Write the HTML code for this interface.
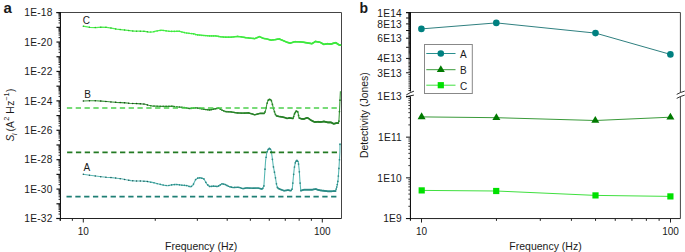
<!DOCTYPE html>
<html><head><meta charset="utf-8"><style>
html,body{margin:0;padding:0;background:#fff;}
body{width:685px;height:252px;overflow:hidden;}
svg{display:block;font-family:"Liberation Sans", sans-serif;}
</style></head><body>
<svg width="685" height="252" viewBox="0 0 685 252">
<rect width="685" height="252" fill="#fff"/>
<line x1="60.45" y1="12.50" x2="341.50" y2="12.50" stroke="#444" stroke-width="1.0" />
<line x1="341.50" y1="12.50" x2="341.50" y2="218.50" stroke="#444" stroke-width="1.0" />
<line x1="56.45" y1="218.50" x2="341.50" y2="218.50" stroke="#222" stroke-width="1.0" />
<line x1="60.45" y1="12.00" x2="60.45" y2="220.80" stroke="#111" stroke-width="1.1" />
<line x1="56.45" y1="12.50" x2="60.45" y2="12.50" stroke="#111" stroke-width="1.0" />
<line x1="56.45" y1="218.50" x2="60.45" y2="218.50" stroke="#111" stroke-width="1.2" />
<line x1="56.45" y1="203.80" x2="60.45" y2="203.80" stroke="#111" stroke-width="1.2" />
<line x1="58.55" y1="214.07" x2="60.45" y2="214.07" stroke="#222" stroke-width="1.0" />
<line x1="58.55" y1="211.48" x2="60.45" y2="211.48" stroke="#222" stroke-width="1.0" />
<line x1="58.55" y1="209.65" x2="60.45" y2="209.65" stroke="#222" stroke-width="1.0" />
<line x1="58.55" y1="208.22" x2="60.45" y2="208.22" stroke="#222" stroke-width="1.0" />
<line x1="58.55" y1="207.06" x2="60.45" y2="207.06" stroke="#222" stroke-width="1.0" />
<line x1="58.55" y1="206.07" x2="60.45" y2="206.07" stroke="#222" stroke-width="1.0" />
<line x1="58.55" y1="205.22" x2="60.45" y2="205.22" stroke="#222" stroke-width="1.0" />
<line x1="58.55" y1="204.47" x2="60.45" y2="204.47" stroke="#222" stroke-width="1.0" />
<line x1="56.45" y1="189.09" x2="60.45" y2="189.09" stroke="#111" stroke-width="1.2" />
<line x1="58.55" y1="199.37" x2="60.45" y2="199.37" stroke="#222" stroke-width="1.0" />
<line x1="58.55" y1="196.78" x2="60.45" y2="196.78" stroke="#222" stroke-width="1.0" />
<line x1="58.55" y1="194.94" x2="60.45" y2="194.94" stroke="#222" stroke-width="1.0" />
<line x1="58.55" y1="193.52" x2="60.45" y2="193.52" stroke="#222" stroke-width="1.0" />
<line x1="58.55" y1="192.35" x2="60.45" y2="192.35" stroke="#222" stroke-width="1.0" />
<line x1="58.55" y1="191.37" x2="60.45" y2="191.37" stroke="#222" stroke-width="1.0" />
<line x1="58.55" y1="190.52" x2="60.45" y2="190.52" stroke="#222" stroke-width="1.0" />
<line x1="58.55" y1="189.77" x2="60.45" y2="189.77" stroke="#222" stroke-width="1.0" />
<line x1="56.45" y1="174.39" x2="60.45" y2="174.39" stroke="#111" stroke-width="1.2" />
<line x1="58.55" y1="184.67" x2="60.45" y2="184.67" stroke="#222" stroke-width="1.0" />
<line x1="58.55" y1="182.08" x2="60.45" y2="182.08" stroke="#222" stroke-width="1.0" />
<line x1="58.55" y1="180.24" x2="60.45" y2="180.24" stroke="#222" stroke-width="1.0" />
<line x1="58.55" y1="178.82" x2="60.45" y2="178.82" stroke="#222" stroke-width="1.0" />
<line x1="58.55" y1="177.65" x2="60.45" y2="177.65" stroke="#222" stroke-width="1.0" />
<line x1="58.55" y1="176.67" x2="60.45" y2="176.67" stroke="#222" stroke-width="1.0" />
<line x1="58.55" y1="175.81" x2="60.45" y2="175.81" stroke="#222" stroke-width="1.0" />
<line x1="58.55" y1="175.06" x2="60.45" y2="175.06" stroke="#222" stroke-width="1.0" />
<line x1="56.45" y1="159.69" x2="60.45" y2="159.69" stroke="#111" stroke-width="1.2" />
<line x1="58.55" y1="169.96" x2="60.45" y2="169.96" stroke="#222" stroke-width="1.0" />
<line x1="58.55" y1="167.37" x2="60.45" y2="167.37" stroke="#222" stroke-width="1.0" />
<line x1="58.55" y1="165.54" x2="60.45" y2="165.54" stroke="#222" stroke-width="1.0" />
<line x1="58.55" y1="164.11" x2="60.45" y2="164.11" stroke="#222" stroke-width="1.0" />
<line x1="58.55" y1="162.95" x2="60.45" y2="162.95" stroke="#222" stroke-width="1.0" />
<line x1="58.55" y1="161.96" x2="60.45" y2="161.96" stroke="#222" stroke-width="1.0" />
<line x1="58.55" y1="161.11" x2="60.45" y2="161.11" stroke="#222" stroke-width="1.0" />
<line x1="58.55" y1="160.36" x2="60.45" y2="160.36" stroke="#222" stroke-width="1.0" />
<line x1="56.45" y1="144.98" x2="60.45" y2="144.98" stroke="#111" stroke-width="1.2" />
<line x1="58.55" y1="155.26" x2="60.45" y2="155.26" stroke="#222" stroke-width="1.0" />
<line x1="58.55" y1="152.67" x2="60.45" y2="152.67" stroke="#222" stroke-width="1.0" />
<line x1="58.55" y1="150.83" x2="60.45" y2="150.83" stroke="#222" stroke-width="1.0" />
<line x1="58.55" y1="149.41" x2="60.45" y2="149.41" stroke="#222" stroke-width="1.0" />
<line x1="58.55" y1="148.24" x2="60.45" y2="148.24" stroke="#222" stroke-width="1.0" />
<line x1="58.55" y1="147.26" x2="60.45" y2="147.26" stroke="#222" stroke-width="1.0" />
<line x1="58.55" y1="146.41" x2="60.45" y2="146.41" stroke="#222" stroke-width="1.0" />
<line x1="58.55" y1="145.65" x2="60.45" y2="145.65" stroke="#222" stroke-width="1.0" />
<line x1="56.45" y1="130.28" x2="60.45" y2="130.28" stroke="#111" stroke-width="1.2" />
<line x1="58.55" y1="140.56" x2="60.45" y2="140.56" stroke="#222" stroke-width="1.0" />
<line x1="58.55" y1="137.97" x2="60.45" y2="137.97" stroke="#222" stroke-width="1.0" />
<line x1="58.55" y1="136.13" x2="60.45" y2="136.13" stroke="#222" stroke-width="1.0" />
<line x1="58.55" y1="134.70" x2="60.45" y2="134.70" stroke="#222" stroke-width="1.0" />
<line x1="58.55" y1="133.54" x2="60.45" y2="133.54" stroke="#222" stroke-width="1.0" />
<line x1="58.55" y1="132.56" x2="60.45" y2="132.56" stroke="#222" stroke-width="1.0" />
<line x1="58.55" y1="131.70" x2="60.45" y2="131.70" stroke="#222" stroke-width="1.0" />
<line x1="58.55" y1="130.95" x2="60.45" y2="130.95" stroke="#222" stroke-width="1.0" />
<line x1="56.45" y1="115.58" x2="60.45" y2="115.58" stroke="#111" stroke-width="1.2" />
<line x1="58.55" y1="125.85" x2="60.45" y2="125.85" stroke="#222" stroke-width="1.0" />
<line x1="58.55" y1="123.26" x2="60.45" y2="123.26" stroke="#222" stroke-width="1.0" />
<line x1="58.55" y1="121.43" x2="60.45" y2="121.43" stroke="#222" stroke-width="1.0" />
<line x1="58.55" y1="120.00" x2="60.45" y2="120.00" stroke="#222" stroke-width="1.0" />
<line x1="58.55" y1="118.84" x2="60.45" y2="118.84" stroke="#222" stroke-width="1.0" />
<line x1="58.55" y1="117.85" x2="60.45" y2="117.85" stroke="#222" stroke-width="1.0" />
<line x1="58.55" y1="117.00" x2="60.45" y2="117.00" stroke="#222" stroke-width="1.0" />
<line x1="58.55" y1="116.25" x2="60.45" y2="116.25" stroke="#222" stroke-width="1.0" />
<line x1="56.45" y1="100.87" x2="60.45" y2="100.87" stroke="#111" stroke-width="1.2" />
<line x1="58.55" y1="111.15" x2="60.45" y2="111.15" stroke="#222" stroke-width="1.0" />
<line x1="58.55" y1="108.56" x2="60.45" y2="108.56" stroke="#222" stroke-width="1.0" />
<line x1="58.55" y1="106.72" x2="60.45" y2="106.72" stroke="#222" stroke-width="1.0" />
<line x1="58.55" y1="105.30" x2="60.45" y2="105.30" stroke="#222" stroke-width="1.0" />
<line x1="58.55" y1="104.13" x2="60.45" y2="104.13" stroke="#222" stroke-width="1.0" />
<line x1="58.55" y1="103.15" x2="60.45" y2="103.15" stroke="#222" stroke-width="1.0" />
<line x1="58.55" y1="102.30" x2="60.45" y2="102.30" stroke="#222" stroke-width="1.0" />
<line x1="58.55" y1="101.54" x2="60.45" y2="101.54" stroke="#222" stroke-width="1.0" />
<line x1="56.45" y1="86.17" x2="60.45" y2="86.17" stroke="#111" stroke-width="1.2" />
<line x1="58.55" y1="96.45" x2="60.45" y2="96.45" stroke="#222" stroke-width="1.0" />
<line x1="58.55" y1="93.86" x2="60.45" y2="93.86" stroke="#222" stroke-width="1.0" />
<line x1="58.55" y1="92.02" x2="60.45" y2="92.02" stroke="#222" stroke-width="1.0" />
<line x1="58.55" y1="90.59" x2="60.45" y2="90.59" stroke="#222" stroke-width="1.0" />
<line x1="58.55" y1="89.43" x2="60.45" y2="89.43" stroke="#222" stroke-width="1.0" />
<line x1="58.55" y1="88.45" x2="60.45" y2="88.45" stroke="#222" stroke-width="1.0" />
<line x1="58.55" y1="87.59" x2="60.45" y2="87.59" stroke="#222" stroke-width="1.0" />
<line x1="58.55" y1="86.84" x2="60.45" y2="86.84" stroke="#222" stroke-width="1.0" />
<line x1="56.45" y1="71.46" x2="60.45" y2="71.46" stroke="#111" stroke-width="1.2" />
<line x1="58.55" y1="81.74" x2="60.45" y2="81.74" stroke="#222" stroke-width="1.0" />
<line x1="58.55" y1="79.15" x2="60.45" y2="79.15" stroke="#222" stroke-width="1.0" />
<line x1="58.55" y1="77.32" x2="60.45" y2="77.32" stroke="#222" stroke-width="1.0" />
<line x1="58.55" y1="75.89" x2="60.45" y2="75.89" stroke="#222" stroke-width="1.0" />
<line x1="58.55" y1="74.73" x2="60.45" y2="74.73" stroke="#222" stroke-width="1.0" />
<line x1="58.55" y1="73.74" x2="60.45" y2="73.74" stroke="#222" stroke-width="1.0" />
<line x1="58.55" y1="72.89" x2="60.45" y2="72.89" stroke="#222" stroke-width="1.0" />
<line x1="58.55" y1="72.14" x2="60.45" y2="72.14" stroke="#222" stroke-width="1.0" />
<line x1="56.45" y1="56.76" x2="60.45" y2="56.76" stroke="#111" stroke-width="1.2" />
<line x1="58.55" y1="67.04" x2="60.45" y2="67.04" stroke="#222" stroke-width="1.0" />
<line x1="58.55" y1="64.45" x2="60.45" y2="64.45" stroke="#222" stroke-width="1.0" />
<line x1="58.55" y1="62.61" x2="60.45" y2="62.61" stroke="#222" stroke-width="1.0" />
<line x1="58.55" y1="61.19" x2="60.45" y2="61.19" stroke="#222" stroke-width="1.0" />
<line x1="58.55" y1="60.02" x2="60.45" y2="60.02" stroke="#222" stroke-width="1.0" />
<line x1="58.55" y1="59.04" x2="60.45" y2="59.04" stroke="#222" stroke-width="1.0" />
<line x1="58.55" y1="58.19" x2="60.45" y2="58.19" stroke="#222" stroke-width="1.0" />
<line x1="58.55" y1="57.43" x2="60.45" y2="57.43" stroke="#222" stroke-width="1.0" />
<line x1="56.45" y1="42.06" x2="60.45" y2="42.06" stroke="#111" stroke-width="1.2" />
<line x1="58.55" y1="52.33" x2="60.45" y2="52.33" stroke="#222" stroke-width="1.0" />
<line x1="58.55" y1="49.75" x2="60.45" y2="49.75" stroke="#222" stroke-width="1.0" />
<line x1="58.55" y1="47.91" x2="60.45" y2="47.91" stroke="#222" stroke-width="1.0" />
<line x1="58.55" y1="46.48" x2="60.45" y2="46.48" stroke="#222" stroke-width="1.0" />
<line x1="58.55" y1="45.32" x2="60.45" y2="45.32" stroke="#222" stroke-width="1.0" />
<line x1="58.55" y1="44.33" x2="60.45" y2="44.33" stroke="#222" stroke-width="1.0" />
<line x1="58.55" y1="43.48" x2="60.45" y2="43.48" stroke="#222" stroke-width="1.0" />
<line x1="58.55" y1="42.73" x2="60.45" y2="42.73" stroke="#222" stroke-width="1.0" />
<line x1="56.45" y1="27.35" x2="60.45" y2="27.35" stroke="#111" stroke-width="1.2" />
<line x1="58.55" y1="37.63" x2="60.45" y2="37.63" stroke="#222" stroke-width="1.0" />
<line x1="58.55" y1="35.04" x2="60.45" y2="35.04" stroke="#222" stroke-width="1.0" />
<line x1="58.55" y1="33.20" x2="60.45" y2="33.20" stroke="#222" stroke-width="1.0" />
<line x1="58.55" y1="31.78" x2="60.45" y2="31.78" stroke="#222" stroke-width="1.0" />
<line x1="58.55" y1="30.62" x2="60.45" y2="30.62" stroke="#222" stroke-width="1.0" />
<line x1="58.55" y1="29.63" x2="60.45" y2="29.63" stroke="#222" stroke-width="1.0" />
<line x1="58.55" y1="28.78" x2="60.45" y2="28.78" stroke="#222" stroke-width="1.0" />
<line x1="58.55" y1="28.03" x2="60.45" y2="28.03" stroke="#222" stroke-width="1.0" />
<line x1="56.45" y1="12.65" x2="60.45" y2="12.65" stroke="#111" stroke-width="1.2" />
<line x1="58.55" y1="22.93" x2="60.45" y2="22.93" stroke="#222" stroke-width="1.0" />
<line x1="58.55" y1="20.34" x2="60.45" y2="20.34" stroke="#222" stroke-width="1.0" />
<line x1="58.55" y1="18.50" x2="60.45" y2="18.50" stroke="#222" stroke-width="1.0" />
<line x1="58.55" y1="17.08" x2="60.45" y2="17.08" stroke="#222" stroke-width="1.0" />
<line x1="58.55" y1="15.91" x2="60.45" y2="15.91" stroke="#222" stroke-width="1.0" />
<line x1="58.55" y1="14.93" x2="60.45" y2="14.93" stroke="#222" stroke-width="1.0" />
<line x1="58.55" y1="14.07" x2="60.45" y2="14.07" stroke="#222" stroke-width="1.0" />
<line x1="58.55" y1="13.32" x2="60.45" y2="13.32" stroke="#222" stroke-width="1.0" />
<text x="52.65" y="222.25" font-size="10.2" text-anchor="end" font-weight="normal" fill="#1a1a1a" letter-spacing="0.22">1E-32</text>
<text x="52.65" y="192.84" font-size="10.2" text-anchor="end" font-weight="normal" fill="#1a1a1a" letter-spacing="0.22">1E-30</text>
<text x="52.65" y="163.44" font-size="10.2" text-anchor="end" font-weight="normal" fill="#1a1a1a" letter-spacing="0.22">1E-28</text>
<text x="52.65" y="134.03" font-size="10.2" text-anchor="end" font-weight="normal" fill="#1a1a1a" letter-spacing="0.22">1E-26</text>
<text x="52.65" y="104.62" font-size="10.2" text-anchor="end" font-weight="normal" fill="#1a1a1a" letter-spacing="0.22">1E-24</text>
<text x="52.65" y="75.21" font-size="10.2" text-anchor="end" font-weight="normal" fill="#1a1a1a" letter-spacing="0.22">1E-22</text>
<text x="52.65" y="45.81" font-size="10.2" text-anchor="end" font-weight="normal" fill="#1a1a1a" letter-spacing="0.22">1E-20</text>
<text x="52.65" y="16.40" font-size="10.2" text-anchor="end" font-weight="normal" fill="#1a1a1a" letter-spacing="0.22">1E-18</text>
<line x1="60.14" y1="218.50" x2="60.14" y2="220.80" stroke="#222" stroke-width="1.0" />
<line x1="72.36" y1="218.50" x2="72.36" y2="220.80" stroke="#222" stroke-width="1.0" />
<line x1="155.25" y1="218.50" x2="155.25" y2="220.80" stroke="#222" stroke-width="1.0" />
<line x1="197.33" y1="218.50" x2="197.33" y2="220.80" stroke="#222" stroke-width="1.0" />
<line x1="227.19" y1="218.50" x2="227.19" y2="220.80" stroke="#222" stroke-width="1.0" />
<line x1="250.35" y1="218.50" x2="250.35" y2="220.80" stroke="#222" stroke-width="1.0" />
<line x1="269.28" y1="218.50" x2="269.28" y2="220.80" stroke="#222" stroke-width="1.0" />
<line x1="285.28" y1="218.50" x2="285.28" y2="220.80" stroke="#222" stroke-width="1.0" />
<line x1="299.14" y1="218.50" x2="299.14" y2="220.80" stroke="#222" stroke-width="1.0" />
<line x1="311.36" y1="218.50" x2="311.36" y2="220.80" stroke="#222" stroke-width="1.0" />
<line x1="83.30" y1="218.50" x2="83.30" y2="222.50" stroke="#222" stroke-width="1.0" />
<line x1="322.30" y1="218.50" x2="322.30" y2="222.50" stroke="#222" stroke-width="1.0" />
<text x="83.30" y="234.70" font-size="10" text-anchor="middle" font-weight="normal" fill="#1a1a1a" >10</text>
<text x="322.30" y="234.70" font-size="10" text-anchor="middle" font-weight="normal" fill="#1a1a1a" >100</text>
<text x="201.20" y="249.60" font-size="10.5" text-anchor="middle" font-weight="normal" fill="#1a1a1a" >Frequency (Hz)</text>
<text transform="translate(13.6,141.43) rotate(-90)" font-size="10.3" fill="#1a1a1a"><tspan font-style="italic">S</tspan><tspan font-size="7" dy="3.5" dx="-0.6" font-style="italic">I</tspan><tspan dy="-3.5" dx="-1.1"> (A</tspan><tspan font-size="7.3" dy="-5.1" dx="0.3">2</tspan><tspan dy="5.1" dx="0.2"> H</tspan><tspan dx="0.5">z</tspan><tspan font-size="7.3" dy="-5.1" dx="-0.2">−1</tspan><tspan dy="5.1" dx="0.5">)</tspan></text>
<text x="3.60" y="13.00" font-size="15" text-anchor="start" font-weight="bold" fill="#1a1a1a" >a</text>
<polyline points="83.00,26.20 89.90,27.40 95.90,27.60 101.30,27.10 106.60,27.40 111.50,28.20 116.70,29.20 120.70,29.60 125.60,30.20 129.60,30.70 134.00,31.20 139.50,31.20 144.90,31.40 148.90,32.10 152.90,31.90 155.80,31.20 161.30,30.20 164.80,30.70 169.70,31.40 174.70,31.40 178.70,31.10 181.60,31.90 185.60,32.90 189.60,33.40 194.50,33.90 196.00,34.70 202.90,35.40 209.80,35.90 215.80,35.90 219.80,36.70 225.70,37.20 231.70,37.10 237.60,36.40 241.60,36.90 245.60,37.70 250.00,38.10 254.90,38.60 259.40,36.60 263.40,38.40 266.80,38.90 270.80,40.10 274.80,39.70 279.20,38.90 282.70,40.40 286.70,42.10 290.10,43.20 294.60,41.70 300.30,41.80 306.00,42.60 311.90,43.70 315.50,41.40 320.20,42.30 323.80,44.40 327.40,43.70 331.00,44.00 335.70,42.60 339.30,45.00 341.00,45.20" fill="none" stroke="#4ef04e" stroke-width="1.3" stroke-linejoin="round"/>
<g fill="#2cb82c"><circle cx="83.30" cy="26.25" r="0.75"/><circle cx="89.45" cy="27.32" r="0.75"/><circle cx="95.25" cy="27.58" r="0.75"/><circle cx="100.74" cy="27.15" r="0.75"/><circle cx="105.96" cy="27.36" r="0.75"/><circle cx="110.93" cy="28.11" r="0.75"/><circle cx="115.67" cy="29.00" r="0.75"/><circle cx="120.21" cy="29.55" r="0.75"/><circle cx="124.55" cy="30.07" r="0.75"/><circle cx="128.72" cy="30.59" r="0.75"/><circle cx="132.73" cy="31.06" r="0.75"/><circle cx="136.59" cy="31.20" r="0.75"/><circle cx="140.31" cy="31.23" r="0.75"/><circle cx="143.91" cy="31.36" r="0.75"/><circle cx="147.38" cy="31.83" r="0.75"/></g>
<g fill="#3ee83e"><circle cx="150.74" cy="32.01" r="0.75"/><circle cx="153.99" cy="31.64" r="0.76"/><circle cx="157.15" cy="30.95" r="0.76"/><circle cx="160.21" cy="30.40" r="0.77"/><circle cx="163.19" cy="30.47" r="0.78"/><circle cx="166.08" cy="30.88" r="0.78"/><circle cx="168.89" cy="31.28" r="0.79"/><circle cx="171.63" cy="31.40" r="0.79"/><circle cx="174.30" cy="31.40" r="0.80"/><circle cx="176.90" cy="31.23" r="0.80"/><circle cx="179.44" cy="31.30" r="0.81"/><circle cx="181.92" cy="31.98" r="0.81"/><circle cx="184.34" cy="32.58" r="0.82"/><circle cx="186.70" cy="33.04" r="0.82"/><circle cx="189.02" cy="33.33" r="0.83"/><circle cx="191.28" cy="33.57" r="0.83"/><circle cx="193.49" cy="33.80" r="0.84"/><circle cx="195.66" cy="34.52" r="0.84"/><circle cx="197.78" cy="34.88" r="0.85"/><circle cx="199.86" cy="35.09" r="0.85"/><circle cx="201.90" cy="35.30" r="0.85"/><circle cx="203.90" cy="35.47" r="0.85"/><circle cx="205.86" cy="35.61" r="0.85"/><circle cx="207.79" cy="35.75" r="0.85"/><circle cx="209.68" cy="35.89" r="0.85"/><circle cx="211.54" cy="35.90" r="0.85"/><circle cx="213.36" cy="35.90" r="0.85"/><circle cx="215.15" cy="35.90" r="0.85"/><circle cx="216.92" cy="36.12" r="0.85"/><circle cx="218.65" cy="36.47" r="0.85"/><circle cx="220.35" cy="36.75" r="0.85"/><circle cx="222.03" cy="36.89" r="0.85"/><circle cx="223.68" cy="37.03" r="0.85"/><circle cx="225.31" cy="37.17" r="0.85"/><circle cx="226.91" cy="37.18" r="0.85"/><circle cx="228.48" cy="37.15" r="0.85"/><circle cx="230.03" cy="37.13" r="0.85"/><circle cx="231.56" cy="37.10" r="0.85"/><circle cx="233.07" cy="36.94" r="0.85"/><circle cx="234.55" cy="36.76" r="0.85"/><circle cx="236.02" cy="36.59" r="0.85"/><circle cx="237.46" cy="36.42" r="0.85"/><circle cx="238.89" cy="36.56" r="0.85"/><circle cx="240.29" cy="36.74" r="0.85"/><circle cx="241.68" cy="36.92" r="0.85"/><circle cx="243.04" cy="37.19" r="0.85"/><circle cx="244.39" cy="37.46" r="0.85"/><circle cx="245.73" cy="37.71" r="0.85"/><circle cx="247.04" cy="37.83" r="0.85"/><circle cx="248.34" cy="37.95" r="0.85"/><circle cx="249.62" cy="38.07" r="0.85"/><circle cx="250.89" cy="38.19" r="0.85"/><circle cx="252.14" cy="38.32" r="0.85"/><circle cx="253.38" cy="38.45" r="0.85"/><circle cx="254.60" cy="38.57" r="0.85"/><circle cx="255.81" cy="38.19" r="0.85"/><circle cx="257.01" cy="37.66" r="0.85"/><circle cx="258.19" cy="37.14" r="0.85"/><circle cx="259.36" cy="36.62" r="0.85"/><circle cx="260.51" cy="37.10" r="0.85"/><circle cx="261.65" cy="37.61" r="0.85"/><circle cx="262.78" cy="38.12" r="0.85"/><circle cx="263.90" cy="38.47" r="0.85"/><circle cx="265.00" cy="38.64" r="0.85"/><circle cx="266.10" cy="38.80" r="0.85"/><circle cx="267.18" cy="39.01" r="0.85"/><circle cx="268.25" cy="39.34" r="0.85"/><circle cx="269.31" cy="39.65" r="0.85"/><circle cx="270.36" cy="39.97" r="0.85"/><circle cx="271.40" cy="40.04" r="0.85"/><circle cx="272.43" cy="39.94" r="0.85"/><circle cx="273.45" cy="39.84" r="0.85"/><circle cx="274.46" cy="39.73" r="0.85"/><circle cx="275.46" cy="39.58" r="0.85"/><circle cx="276.45" cy="39.40" r="0.85"/><circle cx="277.43" cy="39.22" r="0.85"/><circle cx="278.40" cy="39.05" r="0.85"/><circle cx="279.36" cy="38.97" r="0.85"/><circle cx="280.31" cy="39.38" r="0.85"/><circle cx="281.26" cy="39.78" r="0.85"/><circle cx="282.19" cy="40.18" r="0.85"/><circle cx="283.12" cy="40.58" r="0.85"/><circle cx="284.04" cy="40.97" r="0.85"/><circle cx="284.95" cy="41.36" r="0.85"/><circle cx="285.86" cy="41.74" r="0.85"/><circle cx="286.75" cy="42.12" r="0.85"/><circle cx="287.64" cy="42.40" r="0.85"/><circle cx="288.52" cy="42.69" r="0.85"/><circle cx="289.39" cy="42.97" r="0.85"/><circle cx="290.26" cy="43.15" r="0.85"/><circle cx="291.12" cy="42.86" r="0.85"/><circle cx="291.97" cy="42.58" r="0.85"/><circle cx="292.81" cy="42.30" r="0.85"/><circle cx="293.65" cy="42.02" r="0.85"/><circle cx="294.48" cy="41.74" r="0.85"/><circle cx="295.31" cy="41.71" r="0.85"/><circle cx="296.12" cy="41.73" r="0.85"/><circle cx="296.94" cy="41.74" r="0.85"/><circle cx="297.74" cy="41.76" r="0.85"/><circle cx="298.54" cy="41.77" r="0.85"/><circle cx="299.33" cy="41.78" r="0.85"/><circle cx="300.12" cy="41.80" r="0.85"/><circle cx="300.90" cy="41.88" r="0.85"/><circle cx="301.68" cy="41.99" r="0.85"/><circle cx="302.45" cy="42.10" r="0.85"/><circle cx="303.21" cy="42.21" r="0.85"/><circle cx="303.97" cy="42.31" r="0.85"/><circle cx="304.72" cy="42.42" r="0.85"/><circle cx="305.47" cy="42.53" r="0.85"/><circle cx="306.21" cy="42.64" r="0.85"/><circle cx="306.95" cy="42.78" r="0.85"/><circle cx="307.68" cy="42.91" r="0.85"/><circle cx="308.40" cy="43.05" r="0.85"/><circle cx="309.13" cy="43.18" r="0.85"/><circle cx="309.84" cy="43.32" r="0.85"/><circle cx="310.55" cy="43.45" r="0.85"/><circle cx="311.26" cy="43.58" r="0.85"/><circle cx="311.96" cy="43.66" r="0.85"/><circle cx="312.66" cy="43.22" r="0.85"/><circle cx="313.35" cy="42.77" r="0.85"/><circle cx="314.04" cy="42.33" r="0.85"/><circle cx="314.72" cy="41.90" r="0.85"/><circle cx="315.40" cy="41.46" r="0.85"/><circle cx="316.08" cy="41.51" r="0.85"/><circle cx="316.75" cy="41.64" r="0.85"/><circle cx="317.41" cy="41.77" r="0.85"/><circle cx="318.07" cy="41.89" r="0.85"/><circle cx="318.73" cy="42.02" r="0.85"/><circle cx="319.38" cy="42.14" r="0.85"/><circle cx="320.03" cy="42.27" r="0.85"/><circle cx="320.68" cy="42.58" r="0.85"/><circle cx="321.32" cy="42.95" r="0.85"/><circle cx="321.96" cy="43.32" r="0.85"/><circle cx="322.59" cy="43.69" r="0.85"/><circle cx="323.22" cy="44.06" r="0.85"/><circle cx="323.85" cy="44.39" r="0.85"/><circle cx="324.47" cy="44.27" r="0.85"/><circle cx="325.09" cy="44.15" r="0.85"/><circle cx="325.70" cy="44.03" r="0.85"/><circle cx="326.31" cy="43.91" r="0.85"/><circle cx="326.92" cy="43.79" r="0.85"/><circle cx="327.52" cy="43.71" r="0.85"/><circle cx="328.12" cy="43.76" r="0.85"/><circle cx="328.72" cy="43.81" r="0.85"/><circle cx="329.31" cy="43.86" r="0.85"/><circle cx="329.90" cy="43.91" r="0.85"/><circle cx="330.49" cy="43.96" r="0.85"/><circle cx="331.07" cy="43.98" r="0.85"/><circle cx="331.65" cy="43.81" r="0.85"/><circle cx="332.23" cy="43.63" r="0.85"/><circle cx="332.80" cy="43.46" r="0.85"/><circle cx="333.38" cy="43.29" r="0.85"/><circle cx="333.94" cy="43.12" r="0.85"/><circle cx="334.51" cy="42.96" r="0.85"/><circle cx="335.07" cy="42.79" r="0.85"/><circle cx="335.63" cy="42.62" r="0.85"/><circle cx="336.18" cy="42.92" r="0.85"/><circle cx="336.73" cy="43.29" r="0.85"/><circle cx="337.28" cy="43.66" r="0.85"/><circle cx="337.83" cy="44.02" r="0.85"/><circle cx="338.37" cy="44.38" r="0.85"/><circle cx="338.92" cy="44.74" r="0.85"/><circle cx="339.45" cy="45.02" r="0.85"/><circle cx="339.99" cy="45.08" r="0.85"/><circle cx="340.52" cy="45.14" r="0.85"/></g>
<polyline points="83.20,101.00 90.20,100.70 95.70,100.70 101.60,101.10 106.80,101.50 111.70,102.00 116.50,102.40 121.10,102.60 125.50,102.90 129.40,103.30 133.40,103.50 137.30,103.60 141.30,103.90 145.20,104.20 148.70,105.30 152.70,106.10 156.20,106.10 160.50,106.40 164.90,106.40 168.40,106.40 172.80,106.10 175.00,106.70 179.90,107.10 184.90,107.60 189.80,108.60 195.80,107.70 199.80,108.40 204.70,109.40 209.70,109.90 214.60,108.90 218.60,108.10 221.60,109.90 225.60,111.60 231.00,111.90 236.90,112.90 242.90,113.10 248.80,112.90 254.80,114.80 259.80,113.40 264.50,113.40 265.70,109.90 266.90,103.90 268.10,100.30 269.30,99.40 271.10,99.70 272.30,103.90 273.50,108.70 275.20,114.00 276.40,115.80 278.80,116.40 282.40,117.00 285.00,117.60 287.10,118.50 289.50,117.90 293.10,118.50 294.30,114.30 296.10,111.00 297.90,111.90 299.00,117.90 301.40,118.80 303.80,119.00 307.40,117.60 311.00,120.20 314.50,122.00 318.10,121.70 320.50,122.00 324.00,121.40 327.60,122.40 331.20,122.40 333.60,123.80 336.00,123.20 338.30,123.20 338.90,121.40 339.50,110.70 340.40,91.30" fill="none" stroke="#3a9a3a" stroke-width="1.1" stroke-linejoin="round"/>
<g fill="#173f17"><circle cx="83.30" cy="101.00" r="0.75"/><circle cx="89.45" cy="100.73" r="0.75"/><circle cx="95.25" cy="100.70" r="0.75"/><circle cx="100.74" cy="101.04" r="0.75"/><circle cx="105.96" cy="101.44" r="0.75"/><circle cx="110.93" cy="101.92" r="0.75"/><circle cx="115.67" cy="102.33" r="0.75"/><circle cx="120.21" cy="102.56" r="0.75"/><circle cx="124.55" cy="102.84" r="0.75"/><circle cx="128.72" cy="103.23" r="0.75"/><circle cx="132.73" cy="103.47" r="0.75"/><circle cx="136.59" cy="103.58" r="0.75"/><circle cx="140.31" cy="103.83" r="0.75"/><circle cx="143.91" cy="104.10" r="0.75"/><circle cx="147.38" cy="104.88" r="0.75"/></g>
<g fill="#267f26"><circle cx="150.74" cy="105.71" r="0.75"/><circle cx="153.99" cy="106.10" r="0.76"/><circle cx="157.15" cy="106.17" r="0.76"/><circle cx="160.21" cy="106.38" r="0.77"/><circle cx="163.19" cy="106.40" r="0.78"/><circle cx="166.08" cy="106.40" r="0.78"/><circle cx="168.89" cy="106.37" r="0.79"/><circle cx="171.63" cy="106.18" r="0.79"/><circle cx="174.30" cy="106.51" r="0.80"/><circle cx="176.90" cy="106.86" r="0.80"/><circle cx="179.44" cy="107.06" r="0.81"/><circle cx="181.92" cy="107.30" r="0.81"/><circle cx="184.34" cy="107.54" r="0.82"/><circle cx="186.70" cy="107.97" r="0.82"/><circle cx="189.02" cy="108.44" r="0.83"/><circle cx="191.28" cy="108.38" r="0.83"/><circle cx="193.49" cy="108.05" r="0.84"/><circle cx="195.66" cy="107.72" r="0.84"/><circle cx="197.78" cy="108.05" r="0.85"/><circle cx="199.86" cy="108.41" r="0.85"/><circle cx="201.90" cy="108.83" r="0.85"/><circle cx="203.90" cy="109.24" r="0.85"/><circle cx="205.86" cy="109.52" r="0.85"/><circle cx="207.79" cy="109.71" r="0.85"/><circle cx="209.68" cy="109.90" r="0.85"/><circle cx="211.54" cy="109.53" r="0.85"/><circle cx="213.36" cy="109.15" r="0.85"/><circle cx="215.15" cy="108.79" r="0.85"/><circle cx="216.92" cy="108.44" r="0.85"/><circle cx="218.65" cy="108.13" r="0.85"/><circle cx="220.35" cy="109.15" r="0.85"/><circle cx="222.03" cy="110.08" r="0.85"/><circle cx="223.68" cy="110.79" r="0.85"/><circle cx="225.31" cy="111.48" r="0.85"/><circle cx="226.91" cy="111.67" r="0.85"/><circle cx="228.48" cy="111.76" r="0.85"/><circle cx="230.03" cy="111.85" r="0.85"/><circle cx="231.56" cy="112.00" r="0.85"/><circle cx="233.07" cy="112.25" r="0.85"/><circle cx="234.55" cy="112.50" r="0.85"/><circle cx="236.02" cy="112.75" r="0.85"/><circle cx="237.46" cy="112.92" r="0.85"/><circle cx="238.89" cy="112.97" r="0.85"/><circle cx="240.29" cy="113.01" r="0.85"/><circle cx="241.68" cy="113.06" r="0.85"/><circle cx="243.04" cy="113.10" r="0.85"/><circle cx="244.39" cy="113.05" r="0.85"/><circle cx="245.73" cy="113.00" r="0.85"/><circle cx="247.04" cy="112.96" r="0.85"/><circle cx="248.34" cy="112.92" r="0.85"/><circle cx="249.62" cy="113.16" r="0.85"/><circle cx="250.89" cy="113.56" r="0.85"/><circle cx="252.14" cy="113.96" r="0.85"/><circle cx="253.38" cy="114.35" r="0.85"/><circle cx="254.60" cy="114.74" r="0.85"/><circle cx="255.81" cy="114.52" r="0.85"/><circle cx="257.01" cy="114.18" r="0.85"/><circle cx="258.19" cy="113.85" r="0.85"/><circle cx="259.36" cy="113.52" r="0.85"/><circle cx="260.51" cy="113.40" r="0.85"/><circle cx="261.65" cy="113.40" r="0.85"/><circle cx="262.78" cy="113.40" r="0.85"/><circle cx="263.90" cy="113.40" r="0.85"/><circle cx="265.00" cy="111.93" r="0.85"/><circle cx="266.10" cy="107.91" r="0.85"/><circle cx="267.18" cy="103.06" r="0.85"/><circle cx="268.25" cy="100.19" r="0.85"/><circle cx="269.31" cy="99.40" r="0.85"/><circle cx="270.36" cy="99.58" r="0.85"/><circle cx="271.40" cy="100.75" r="0.85"/><circle cx="272.43" cy="104.42" r="0.85"/><circle cx="273.45" cy="108.50" r="0.85"/><circle cx="274.46" cy="111.69" r="0.85"/><circle cx="275.46" cy="114.39" r="0.85"/><circle cx="276.45" cy="115.81" r="0.85"/><circle cx="277.43" cy="116.06" r="0.85"/><circle cx="278.40" cy="116.30" r="0.85"/><circle cx="279.36" cy="116.49" r="0.85"/><circle cx="280.31" cy="116.65" r="0.85"/><circle cx="281.26" cy="116.81" r="0.85"/><circle cx="282.19" cy="116.97" r="0.85"/><circle cx="283.12" cy="117.17" r="0.85"/><circle cx="284.04" cy="117.38" r="0.85"/><circle cx="284.95" cy="117.59" r="0.85"/><circle cx="285.86" cy="117.97" r="0.85"/><circle cx="286.75" cy="118.35" r="0.85"/><circle cx="287.64" cy="118.37" r="0.85"/><circle cx="288.52" cy="118.15" r="0.85"/><circle cx="289.39" cy="117.93" r="0.85"/><circle cx="290.26" cy="118.03" r="0.85"/><circle cx="291.12" cy="118.17" r="0.85"/><circle cx="291.97" cy="118.31" r="0.85"/><circle cx="292.81" cy="118.45" r="0.85"/><circle cx="293.65" cy="116.57" r="0.85"/><circle cx="294.48" cy="113.97" r="0.85"/><circle cx="295.31" cy="112.46" r="0.85"/><circle cx="296.12" cy="111.01" r="0.85"/><circle cx="296.94" cy="111.42" r="0.85"/><circle cx="297.74" cy="111.82" r="0.85"/><circle cx="298.54" cy="115.39" r="0.85"/><circle cx="299.33" cy="118.02" r="0.85"/><circle cx="300.12" cy="118.32" r="0.85"/><circle cx="300.90" cy="118.61" r="0.85"/><circle cx="301.68" cy="118.82" r="0.85"/><circle cx="302.45" cy="118.89" r="0.85"/><circle cx="303.21" cy="118.95" r="0.85"/><circle cx="303.97" cy="118.93" r="0.85"/><circle cx="304.72" cy="118.64" r="0.85"/><circle cx="305.47" cy="118.35" r="0.85"/><circle cx="306.21" cy="118.06" r="0.85"/><circle cx="306.95" cy="117.78" r="0.85"/><circle cx="307.68" cy="117.80" r="0.85"/><circle cx="308.40" cy="118.33" r="0.85"/><circle cx="309.13" cy="118.85" r="0.85"/><circle cx="309.84" cy="119.36" r="0.85"/><circle cx="310.55" cy="119.88" r="0.85"/><circle cx="311.26" cy="120.33" r="0.85"/><circle cx="311.96" cy="120.69" r="0.85"/><circle cx="312.66" cy="121.05" r="0.85"/><circle cx="313.35" cy="121.41" r="0.85"/><circle cx="314.04" cy="121.76" r="0.85"/><circle cx="314.72" cy="121.98" r="0.85"/><circle cx="315.40" cy="121.92" r="0.85"/><circle cx="316.08" cy="121.87" r="0.85"/><circle cx="316.75" cy="121.81" r="0.85"/><circle cx="317.41" cy="121.76" r="0.85"/><circle cx="318.07" cy="121.70" r="0.85"/><circle cx="318.73" cy="121.78" r="0.85"/><circle cx="319.38" cy="121.86" r="0.85"/><circle cx="320.03" cy="121.94" r="0.85"/><circle cx="320.68" cy="121.97" r="0.85"/><circle cx="321.32" cy="121.86" r="0.85"/><circle cx="321.96" cy="121.75" r="0.85"/><circle cx="322.59" cy="121.64" r="0.85"/><circle cx="323.22" cy="121.53" r="0.85"/><circle cx="323.85" cy="121.43" r="0.85"/><circle cx="324.47" cy="121.53" r="0.85"/><circle cx="325.09" cy="121.70" r="0.85"/><circle cx="325.70" cy="121.87" r="0.85"/><circle cx="326.31" cy="122.04" r="0.85"/><circle cx="326.92" cy="122.21" r="0.85"/><circle cx="327.52" cy="122.38" r="0.85"/><circle cx="328.12" cy="122.40" r="0.85"/><circle cx="328.72" cy="122.40" r="0.85"/><circle cx="329.31" cy="122.40" r="0.85"/><circle cx="329.90" cy="122.40" r="0.85"/><circle cx="330.49" cy="122.40" r="0.85"/><circle cx="331.07" cy="122.40" r="0.85"/><circle cx="331.65" cy="122.66" r="0.85"/><circle cx="332.23" cy="123.00" r="0.85"/><circle cx="332.80" cy="123.34" r="0.85"/><circle cx="333.38" cy="123.67" r="0.85"/><circle cx="333.94" cy="123.71" r="0.85"/><circle cx="334.51" cy="123.57" r="0.85"/><circle cx="335.07" cy="123.43" r="0.85"/><circle cx="335.63" cy="123.29" r="0.85"/><circle cx="336.18" cy="123.20" r="0.85"/><circle cx="336.73" cy="123.20" r="0.85"/><circle cx="337.28" cy="123.20" r="0.85"/><circle cx="337.83" cy="123.20" r="0.85"/><circle cx="338.37" cy="122.98" r="0.85"/><circle cx="338.92" cy="121.13" r="0.85"/><circle cx="339.45" cy="111.53" r="0.85"/><circle cx="339.99" cy="100.17" r="0.85"/></g>
<polyline points="83.10,174.30 89.90,175.20 95.80,176.00 101.20,176.70 106.50,177.30 111.90,177.60 116.70,178.20 121.40,178.80 126.20,179.80 131.00,180.60 135.60,181.00 141.10,181.00 146.70,181.40 152.20,182.40 157.80,183.80 163.30,185.10 167.50,185.80 171.70,184.90 175.80,184.40 181.40,185.10 186.90,185.60 190.40,186.90 192.80,185.60 195.60,179.60 198.30,177.80 201.10,177.90 203.90,178.90 206.70,183.80 209.40,186.50 213.60,186.10 217.80,186.50 221.90,183.80 224.70,184.20 228.90,186.50 233.00,187.50 238.60,187.20 242.80,188.60 246.90,187.90 252.50,188.20 258.00,188.00 262.40,189.10 263.90,185.90 264.60,175.00 265.60,160.70 266.70,153.10 267.80,149.80 269.40,148.30 271.10,149.80 272.20,157.50 273.30,166.20 275.00,175.00 276.60,184.80 277.60,188.00 279.80,189.10 284.00,190.70 287.90,190.10 290.90,190.70 292.30,188.70 293.30,177.80 294.30,167.90 295.50,161.90 296.90,160.30 298.30,161.90 299.20,169.80 300.00,181.70 300.80,190.70 303.80,189.70 307.80,189.70 311.70,189.70 315.70,189.10 319.70,190.30 323.70,190.70 327.60,191.30 331.60,191.30 335.60,191.10 337.10,185.70 338.10,179.80 339.10,165.90 339.90,152.00 340.00,143.30" fill="none" stroke="#5ab8b4" stroke-width="1.1" stroke-linejoin="round"/>
<g fill="#1c5c5a"><circle cx="83.30" cy="174.33" r="0.75"/><circle cx="89.45" cy="175.14" r="0.75"/><circle cx="95.25" cy="175.93" r="0.75"/><circle cx="100.74" cy="176.64" r="0.75"/><circle cx="105.96" cy="177.24" r="0.75"/><circle cx="110.93" cy="177.55" r="0.75"/><circle cx="115.67" cy="178.07" r="0.75"/><circle cx="120.21" cy="178.65" r="0.75"/><circle cx="124.55" cy="179.46" r="0.75"/><circle cx="128.72" cy="180.22" r="0.75"/><circle cx="132.73" cy="180.75" r="0.75"/><circle cx="136.59" cy="181.00" r="0.75"/><circle cx="140.31" cy="181.00" r="0.75"/><circle cx="143.91" cy="181.20" r="0.75"/><circle cx="147.38" cy="181.52" r="0.75"/></g>
<g fill="#2b8a85"><circle cx="150.74" cy="182.13" r="0.75"/><circle cx="153.99" cy="182.85" r="0.76"/><circle cx="157.15" cy="183.64" r="0.76"/><circle cx="160.21" cy="184.37" r="0.77"/><circle cx="163.19" cy="185.07" r="0.78"/><circle cx="166.08" cy="185.56" r="0.78"/><circle cx="168.89" cy="185.50" r="0.79"/><circle cx="171.63" cy="184.91" r="0.79"/><circle cx="174.30" cy="184.58" r="0.80"/><circle cx="176.90" cy="184.54" r="0.80"/><circle cx="179.44" cy="184.86" r="0.81"/><circle cx="181.92" cy="185.15" r="0.81"/><circle cx="184.34" cy="185.37" r="0.82"/><circle cx="186.70" cy="185.58" r="0.82"/><circle cx="189.02" cy="186.39" r="0.83"/><circle cx="191.28" cy="186.42" r="0.83"/><circle cx="193.49" cy="184.12" r="0.84"/><circle cx="195.66" cy="179.56" r="0.84"/><circle cx="197.78" cy="178.15" r="0.85"/><circle cx="199.86" cy="177.86" r="0.85"/><circle cx="201.90" cy="178.19" r="0.85"/><circle cx="203.90" cy="178.90" r="0.85"/><circle cx="205.86" cy="182.34" r="0.85"/><circle cx="207.79" cy="184.89" r="0.85"/><circle cx="209.68" cy="186.47" r="0.85"/><circle cx="211.54" cy="186.30" r="0.85"/><circle cx="213.36" cy="186.12" r="0.85"/><circle cx="215.15" cy="186.25" r="0.85"/><circle cx="216.92" cy="186.42" r="0.85"/><circle cx="218.65" cy="185.94" r="0.85"/><circle cx="220.35" cy="184.82" r="0.85"/><circle cx="222.03" cy="183.82" r="0.85"/><circle cx="223.68" cy="184.05" r="0.85"/><circle cx="225.31" cy="184.53" r="0.85"/><circle cx="226.91" cy="185.41" r="0.85"/><circle cx="228.48" cy="186.27" r="0.85"/><circle cx="230.03" cy="186.78" r="0.85"/><circle cx="231.56" cy="187.15" r="0.85"/><circle cx="233.07" cy="187.50" r="0.85"/><circle cx="234.55" cy="187.42" r="0.85"/><circle cx="236.02" cy="187.34" r="0.85"/><circle cx="237.46" cy="187.26" r="0.85"/><circle cx="238.89" cy="187.30" r="0.85"/><circle cx="240.29" cy="187.76" r="0.85"/><circle cx="241.68" cy="188.23" r="0.85"/><circle cx="243.04" cy="188.56" r="0.85"/><circle cx="244.39" cy="188.33" r="0.85"/><circle cx="245.73" cy="188.10" r="0.85"/><circle cx="247.04" cy="187.91" r="0.85"/><circle cx="248.34" cy="187.98" r="0.85"/><circle cx="249.62" cy="188.05" r="0.85"/><circle cx="250.89" cy="188.11" r="0.85"/><circle cx="252.14" cy="188.18" r="0.85"/><circle cx="253.38" cy="188.17" r="0.85"/><circle cx="254.60" cy="188.12" r="0.85"/><circle cx="255.81" cy="188.08" r="0.85"/><circle cx="257.01" cy="188.04" r="0.85"/><circle cx="258.19" cy="188.05" r="0.85"/><circle cx="259.36" cy="188.34" r="0.85"/><circle cx="260.51" cy="188.63" r="0.85"/><circle cx="261.65" cy="188.91" r="0.85"/><circle cx="262.78" cy="188.28" r="0.85"/><circle cx="263.90" cy="185.90" r="0.85"/><circle cx="265.00" cy="169.21" r="0.85"/><circle cx="266.10" cy="157.25" r="0.85"/><circle cx="267.18" cy="151.66" r="0.85"/><circle cx="268.25" cy="149.38" r="0.85"/><circle cx="269.31" cy="148.38" r="0.85"/><circle cx="270.36" cy="149.15" r="0.85"/><circle cx="271.40" cy="151.91" r="0.85"/><circle cx="272.43" cy="159.32" r="0.85"/><circle cx="273.45" cy="166.97" r="0.85"/><circle cx="274.46" cy="172.19" r="0.85"/><circle cx="275.46" cy="177.80" r="0.85"/><circle cx="276.45" cy="183.86" r="0.85"/><circle cx="277.43" cy="187.44" r="0.85"/><circle cx="278.40" cy="188.40" r="0.85"/><circle cx="279.36" cy="188.88" r="0.85"/><circle cx="280.31" cy="189.30" r="0.85"/><circle cx="281.26" cy="189.66" r="0.85"/><circle cx="282.19" cy="190.01" r="0.85"/><circle cx="283.12" cy="190.37" r="0.85"/><circle cx="284.04" cy="190.69" r="0.85"/><circle cx="284.95" cy="190.55" r="0.85"/><circle cx="285.86" cy="190.41" r="0.85"/><circle cx="286.75" cy="190.28" r="0.85"/><circle cx="287.64" cy="190.14" r="0.85"/><circle cx="288.52" cy="190.22" r="0.85"/><circle cx="289.39" cy="190.40" r="0.85"/><circle cx="290.26" cy="190.57" r="0.85"/><circle cx="291.12" cy="190.39" r="0.85"/><circle cx="291.97" cy="189.17" r="0.85"/><circle cx="292.81" cy="183.11" r="0.85"/><circle cx="293.65" cy="174.33" r="0.85"/><circle cx="294.48" cy="166.99" r="0.85"/><circle cx="295.31" cy="162.87" r="0.85"/><circle cx="296.12" cy="161.19" r="0.85"/><circle cx="296.94" cy="160.34" r="0.85"/><circle cx="297.74" cy="161.26" r="0.85"/><circle cx="298.54" cy="164.01" r="0.85"/><circle cx="299.33" cy="171.78" r="0.85"/><circle cx="300.12" cy="183.05" r="0.85"/><circle cx="300.90" cy="190.67" r="0.85"/><circle cx="301.68" cy="190.41" r="0.85"/><circle cx="302.45" cy="190.15" r="0.85"/><circle cx="303.21" cy="189.90" r="0.85"/><circle cx="303.97" cy="189.70" r="0.85"/><circle cx="304.72" cy="189.70" r="0.85"/><circle cx="305.47" cy="189.70" r="0.85"/><circle cx="306.21" cy="189.70" r="0.85"/><circle cx="306.95" cy="189.70" r="0.85"/><circle cx="307.68" cy="189.70" r="0.85"/><circle cx="308.40" cy="189.70" r="0.85"/><circle cx="309.13" cy="189.70" r="0.85"/><circle cx="309.84" cy="189.70" r="0.85"/><circle cx="310.55" cy="189.70" r="0.85"/><circle cx="311.26" cy="189.70" r="0.85"/><circle cx="311.96" cy="189.66" r="0.85"/><circle cx="312.66" cy="189.56" r="0.85"/><circle cx="313.35" cy="189.45" r="0.85"/><circle cx="314.04" cy="189.35" r="0.85"/><circle cx="314.72" cy="189.25" r="0.85"/><circle cx="315.40" cy="189.14" r="0.85"/><circle cx="316.08" cy="189.21" r="0.85"/><circle cx="316.75" cy="189.41" r="0.85"/><circle cx="317.41" cy="189.61" r="0.85"/><circle cx="318.07" cy="189.81" r="0.85"/><circle cx="318.73" cy="190.01" r="0.85"/><circle cx="319.38" cy="190.21" r="0.85"/><circle cx="320.03" cy="190.33" r="0.85"/><circle cx="320.68" cy="190.40" r="0.85"/><circle cx="321.32" cy="190.46" r="0.85"/><circle cx="321.96" cy="190.53" r="0.85"/><circle cx="322.59" cy="190.59" r="0.85"/><circle cx="323.22" cy="190.65" r="0.85"/><circle cx="323.85" cy="190.72" r="0.85"/><circle cx="324.47" cy="190.82" r="0.85"/><circle cx="325.09" cy="190.91" r="0.85"/><circle cx="325.70" cy="191.01" r="0.85"/><circle cx="326.31" cy="191.10" r="0.85"/><circle cx="326.92" cy="191.20" r="0.85"/><circle cx="327.52" cy="191.29" r="0.85"/><circle cx="328.12" cy="191.30" r="0.85"/><circle cx="328.72" cy="191.30" r="0.85"/><circle cx="329.31" cy="191.30" r="0.85"/><circle cx="329.90" cy="191.30" r="0.85"/><circle cx="330.49" cy="191.30" r="0.85"/><circle cx="331.07" cy="191.30" r="0.85"/><circle cx="331.65" cy="191.30" r="0.85"/><circle cx="332.23" cy="191.27" r="0.85"/><circle cx="332.80" cy="191.24" r="0.85"/><circle cx="333.38" cy="191.21" r="0.85"/><circle cx="333.94" cy="191.18" r="0.85"/><circle cx="334.51" cy="191.15" r="0.85"/><circle cx="335.07" cy="191.13" r="0.85"/><circle cx="335.63" cy="191.00" r="0.85"/><circle cx="336.18" cy="189.00" r="0.85"/><circle cx="336.73" cy="187.02" r="0.85"/><circle cx="337.28" cy="184.61" r="0.85"/><circle cx="337.83" cy="181.39" r="0.85"/><circle cx="338.37" cy="175.99" r="0.85"/><circle cx="338.92" cy="168.47" r="0.85"/><circle cx="339.45" cy="159.76" r="0.85"/><circle cx="339.99" cy="144.28" r="0.85"/></g>
<line x1="66.9" y1="108.0" x2="337.0" y2="108.0" stroke="#4ccf4c" stroke-width="1.7" stroke-dasharray="5.3 3.52"/>
<line x1="67.1" y1="152.35" x2="337.0" y2="152.35" stroke="#237a23" stroke-width="1.7" stroke-dasharray="5.3 3.52"/>
<line x1="66.5" y1="196.7" x2="337.0" y2="196.7" stroke="#1f7f75" stroke-width="1.7" stroke-dasharray="5.3 3.52"/>
<text x="82.80" y="23.80" font-size="10" text-anchor="start" font-weight="normal" fill="#1a1a1a" >C</text>
<text x="84.30" y="97.80" font-size="10" text-anchor="start" font-weight="normal" fill="#1a1a1a" >B</text>
<text x="83.60" y="170.80" font-size="10" text-anchor="start" font-weight="normal" fill="#1a1a1a" >A</text>
<line x1="410.45" y1="12.50" x2="680.40" y2="12.50" stroke="#444" stroke-width="1.0" />
<line x1="680.40" y1="12.50" x2="680.40" y2="92.60" stroke="#444" stroke-width="1.0" />
<line x1="680.40" y1="96.40" x2="680.40" y2="218.55" stroke="#444" stroke-width="1.0" />
<g stroke="#333" stroke-width="1" fill="none"><path d="M676.7,94.4 Q680.5,92.2 684.7,91.1"/><path d="M676.7,98.4 Q680.5,96.2 684.7,95.1"/></g>
<line x1="405.95" y1="218.55" x2="680.40" y2="218.55" stroke="#222" stroke-width="1.0" />
<line x1="410.45" y1="12.00" x2="410.45" y2="91.60" stroke="#111" stroke-width="1.1" />
<line x1="410.45" y1="96.60" x2="410.45" y2="220.85" stroke="#111" stroke-width="1.1" />
<line x1="406.05" y1="12.50" x2="410.45" y2="12.50" stroke="#111" stroke-width="1.0" />
<g stroke="#222" stroke-width="1" fill="none"><path d="M406.3,94.9 Q410.3,92.3 413.9,91.2"/><path d="M406.3,97.1 Q410.1,95.6 413.9,95.1"/></g>
<line x1="406.05" y1="72.78" x2="410.45" y2="72.78" stroke="#111" stroke-width="1.0" />
<line x1="406.05" y1="58.43" x2="410.45" y2="58.43" stroke="#111" stroke-width="1.0" />
<line x1="406.05" y1="47.31" x2="410.45" y2="47.31" stroke="#111" stroke-width="1.0" />
<line x1="406.05" y1="38.22" x2="410.45" y2="38.22" stroke="#111" stroke-width="1.0" />
<line x1="406.05" y1="30.53" x2="410.45" y2="30.53" stroke="#111" stroke-width="1.0" />
<line x1="406.05" y1="23.88" x2="410.45" y2="23.88" stroke="#111" stroke-width="1.0" />
<line x1="406.05" y1="18.00" x2="410.45" y2="18.00" stroke="#111" stroke-width="1.0" />
<line x1="406.05" y1="12.75" x2="410.45" y2="12.75" stroke="#111" stroke-width="1.0" />
<line x1="408.45" y1="90.56" x2="410.45" y2="90.56" stroke="#111" stroke-width="0.9" />
<line x1="408.45" y1="88.24" x2="410.45" y2="88.24" stroke="#111" stroke-width="0.9" />
<line x1="408.45" y1="86.02" x2="410.45" y2="86.02" stroke="#111" stroke-width="0.9" />
<line x1="408.45" y1="83.90" x2="410.45" y2="83.90" stroke="#111" stroke-width="0.9" />
<line x1="408.45" y1="81.87" x2="410.45" y2="81.87" stroke="#111" stroke-width="0.9" />
<line x1="408.45" y1="79.91" x2="410.45" y2="79.91" stroke="#111" stroke-width="0.9" />
<line x1="408.45" y1="78.03" x2="410.45" y2="78.03" stroke="#111" stroke-width="0.9" />
<line x1="408.45" y1="76.22" x2="410.45" y2="76.22" stroke="#111" stroke-width="0.9" />
<line x1="408.45" y1="74.47" x2="410.45" y2="74.47" stroke="#111" stroke-width="0.9" />
<line x1="408.45" y1="71.14" x2="410.45" y2="71.14" stroke="#111" stroke-width="0.9" />
<line x1="408.45" y1="69.56" x2="410.45" y2="69.56" stroke="#111" stroke-width="0.9" />
<line x1="408.45" y1="68.02" x2="410.45" y2="68.02" stroke="#111" stroke-width="0.9" />
<line x1="408.45" y1="66.54" x2="410.45" y2="66.54" stroke="#111" stroke-width="0.9" />
<line x1="408.45" y1="65.09" x2="410.45" y2="65.09" stroke="#111" stroke-width="0.9" />
<line x1="408.45" y1="63.69" x2="410.45" y2="63.69" stroke="#111" stroke-width="0.9" />
<line x1="408.45" y1="62.32" x2="410.45" y2="62.32" stroke="#111" stroke-width="0.9" />
<line x1="408.45" y1="60.99" x2="410.45" y2="60.99" stroke="#111" stroke-width="0.9" />
<line x1="408.45" y1="59.70" x2="410.45" y2="59.70" stroke="#111" stroke-width="0.9" />
<line x1="408.45" y1="57.20" x2="410.45" y2="57.20" stroke="#111" stroke-width="0.9" />
<line x1="408.45" y1="56.00" x2="410.45" y2="56.00" stroke="#111" stroke-width="0.9" />
<line x1="408.45" y1="54.83" x2="410.45" y2="54.83" stroke="#111" stroke-width="0.9" />
<line x1="408.45" y1="53.68" x2="410.45" y2="53.68" stroke="#111" stroke-width="0.9" />
<line x1="408.45" y1="52.56" x2="410.45" y2="52.56" stroke="#111" stroke-width="0.9" />
<line x1="408.45" y1="51.47" x2="410.45" y2="51.47" stroke="#111" stroke-width="0.9" />
<line x1="408.45" y1="50.39" x2="410.45" y2="50.39" stroke="#111" stroke-width="0.9" />
<line x1="408.45" y1="49.34" x2="410.45" y2="49.34" stroke="#111" stroke-width="0.9" />
<line x1="408.45" y1="48.32" x2="410.45" y2="48.32" stroke="#111" stroke-width="0.9" />
<line x1="408.45" y1="46.32" x2="410.45" y2="46.32" stroke="#111" stroke-width="0.9" />
<line x1="408.45" y1="45.35" x2="410.45" y2="45.35" stroke="#111" stroke-width="0.9" />
<line x1="408.45" y1="44.40" x2="410.45" y2="44.40" stroke="#111" stroke-width="0.9" />
<line x1="408.45" y1="43.47" x2="410.45" y2="43.47" stroke="#111" stroke-width="0.9" />
<line x1="408.45" y1="42.56" x2="410.45" y2="42.56" stroke="#111" stroke-width="0.9" />
<line x1="408.45" y1="41.66" x2="410.45" y2="41.66" stroke="#111" stroke-width="0.9" />
<line x1="408.45" y1="40.78" x2="410.45" y2="40.78" stroke="#111" stroke-width="0.9" />
<line x1="408.45" y1="39.91" x2="410.45" y2="39.91" stroke="#111" stroke-width="0.9" />
<line x1="408.45" y1="39.06" x2="410.45" y2="39.06" stroke="#111" stroke-width="0.9" />
<line x1="408.45" y1="37.39" x2="410.45" y2="37.39" stroke="#111" stroke-width="0.9" />
<line x1="408.45" y1="36.58" x2="410.45" y2="36.58" stroke="#111" stroke-width="0.9" />
<line x1="408.45" y1="35.79" x2="410.45" y2="35.79" stroke="#111" stroke-width="0.9" />
<line x1="408.45" y1="35.00" x2="410.45" y2="35.00" stroke="#111" stroke-width="0.9" />
<line x1="408.45" y1="34.23" x2="410.45" y2="34.23" stroke="#111" stroke-width="0.9" />
<line x1="408.45" y1="33.47" x2="410.45" y2="33.47" stroke="#111" stroke-width="0.9" />
<line x1="408.45" y1="32.72" x2="410.45" y2="32.72" stroke="#111" stroke-width="0.9" />
<line x1="408.45" y1="31.98" x2="410.45" y2="31.98" stroke="#111" stroke-width="0.9" />
<line x1="408.45" y1="31.25" x2="410.45" y2="31.25" stroke="#111" stroke-width="0.9" />
<line x1="408.45" y1="29.83" x2="410.45" y2="29.83" stroke="#111" stroke-width="0.9" />
<line x1="408.45" y1="29.13" x2="410.45" y2="29.13" stroke="#111" stroke-width="0.9" />
<line x1="408.45" y1="28.44" x2="410.45" y2="28.44" stroke="#111" stroke-width="0.9" />
<line x1="408.45" y1="27.76" x2="410.45" y2="27.76" stroke="#111" stroke-width="0.9" />
<line x1="408.45" y1="27.09" x2="410.45" y2="27.09" stroke="#111" stroke-width="0.9" />
<line x1="408.45" y1="26.43" x2="410.45" y2="26.43" stroke="#111" stroke-width="0.9" />
<line x1="408.45" y1="25.78" x2="410.45" y2="25.78" stroke="#111" stroke-width="0.9" />
<line x1="408.45" y1="25.14" x2="410.45" y2="25.14" stroke="#111" stroke-width="0.9" />
<line x1="408.45" y1="24.50" x2="410.45" y2="24.50" stroke="#111" stroke-width="0.9" />
<line x1="408.45" y1="23.26" x2="410.45" y2="23.26" stroke="#111" stroke-width="0.9" />
<line x1="408.45" y1="22.64" x2="410.45" y2="22.64" stroke="#111" stroke-width="0.9" />
<line x1="408.45" y1="22.04" x2="410.45" y2="22.04" stroke="#111" stroke-width="0.9" />
<line x1="408.45" y1="21.44" x2="410.45" y2="21.44" stroke="#111" stroke-width="0.9" />
<line x1="408.45" y1="20.85" x2="410.45" y2="20.85" stroke="#111" stroke-width="0.9" />
<line x1="408.45" y1="20.27" x2="410.45" y2="20.27" stroke="#111" stroke-width="0.9" />
<line x1="408.45" y1="19.69" x2="410.45" y2="19.69" stroke="#111" stroke-width="0.9" />
<line x1="408.45" y1="19.12" x2="410.45" y2="19.12" stroke="#111" stroke-width="0.9" />
<line x1="408.45" y1="18.56" x2="410.45" y2="18.56" stroke="#111" stroke-width="0.9" />
<line x1="408.45" y1="17.45" x2="410.45" y2="17.45" stroke="#111" stroke-width="0.9" />
<line x1="408.45" y1="16.91" x2="410.45" y2="16.91" stroke="#111" stroke-width="0.9" />
<line x1="408.45" y1="16.37" x2="410.45" y2="16.37" stroke="#111" stroke-width="0.9" />
<line x1="408.45" y1="15.83" x2="410.45" y2="15.83" stroke="#111" stroke-width="0.9" />
<line x1="408.45" y1="15.31" x2="410.45" y2="15.31" stroke="#111" stroke-width="0.9" />
<line x1="408.45" y1="14.79" x2="410.45" y2="14.79" stroke="#111" stroke-width="0.9" />
<line x1="408.45" y1="14.27" x2="410.45" y2="14.27" stroke="#111" stroke-width="0.9" />
<line x1="408.45" y1="13.76" x2="410.45" y2="13.76" stroke="#111" stroke-width="0.9" />
<line x1="408.45" y1="13.25" x2="410.45" y2="13.25" stroke="#111" stroke-width="0.9" />
<text x="401.95" y="16.50" font-size="10.2" text-anchor="end" font-weight="normal" fill="#1a1a1a" letter-spacing="0.22">1E14</text>
<text x="401.95" y="27.63" font-size="10.2" text-anchor="end" font-weight="normal" fill="#1a1a1a" letter-spacing="0.22">8E13</text>
<text x="401.95" y="41.97" font-size="10.2" text-anchor="end" font-weight="normal" fill="#1a1a1a" letter-spacing="0.22">6E13</text>
<text x="401.95" y="62.18" font-size="10.2" text-anchor="end" font-weight="normal" fill="#1a1a1a" letter-spacing="0.22">4E13</text>
<text x="401.95" y="76.53" font-size="10.2" text-anchor="end" font-weight="normal" fill="#1a1a1a" letter-spacing="0.22">3E13</text>
<line x1="406.05" y1="218.55" x2="410.45" y2="218.55" stroke="#111" stroke-width="1.0" />
<line x1="408.35" y1="206.30" x2="410.45" y2="206.30" stroke="#222" stroke-width="0.9" />
<line x1="408.35" y1="199.13" x2="410.45" y2="199.13" stroke="#222" stroke-width="0.9" />
<line x1="408.35" y1="194.05" x2="410.45" y2="194.05" stroke="#222" stroke-width="0.9" />
<line x1="408.35" y1="190.10" x2="410.45" y2="190.10" stroke="#222" stroke-width="0.9" />
<line x1="408.35" y1="186.88" x2="410.45" y2="186.88" stroke="#222" stroke-width="0.9" />
<line x1="408.35" y1="184.15" x2="410.45" y2="184.15" stroke="#222" stroke-width="0.9" />
<line x1="408.35" y1="181.79" x2="410.45" y2="181.79" stroke="#222" stroke-width="0.9" />
<line x1="408.35" y1="179.71" x2="410.45" y2="179.71" stroke="#222" stroke-width="0.9" />
<line x1="406.05" y1="177.85" x2="410.45" y2="177.85" stroke="#111" stroke-width="1.0" />
<line x1="408.35" y1="165.60" x2="410.45" y2="165.60" stroke="#222" stroke-width="0.9" />
<line x1="408.35" y1="158.43" x2="410.45" y2="158.43" stroke="#222" stroke-width="0.9" />
<line x1="408.35" y1="153.35" x2="410.45" y2="153.35" stroke="#222" stroke-width="0.9" />
<line x1="408.35" y1="149.40" x2="410.45" y2="149.40" stroke="#222" stroke-width="0.9" />
<line x1="408.35" y1="146.18" x2="410.45" y2="146.18" stroke="#222" stroke-width="0.9" />
<line x1="408.35" y1="143.45" x2="410.45" y2="143.45" stroke="#222" stroke-width="0.9" />
<line x1="408.35" y1="141.09" x2="410.45" y2="141.09" stroke="#222" stroke-width="0.9" />
<line x1="408.35" y1="139.01" x2="410.45" y2="139.01" stroke="#222" stroke-width="0.9" />
<line x1="406.05" y1="137.15" x2="410.45" y2="137.15" stroke="#111" stroke-width="1.0" />
<line x1="408.35" y1="124.90" x2="410.45" y2="124.90" stroke="#222" stroke-width="0.9" />
<line x1="408.35" y1="117.73" x2="410.45" y2="117.73" stroke="#222" stroke-width="0.9" />
<line x1="408.35" y1="112.65" x2="410.45" y2="112.65" stroke="#222" stroke-width="0.9" />
<line x1="408.35" y1="108.70" x2="410.45" y2="108.70" stroke="#222" stroke-width="0.9" />
<line x1="408.35" y1="105.48" x2="410.45" y2="105.48" stroke="#222" stroke-width="0.9" />
<line x1="408.35" y1="102.75" x2="410.45" y2="102.75" stroke="#222" stroke-width="0.9" />
<line x1="408.35" y1="100.39" x2="410.45" y2="100.39" stroke="#222" stroke-width="0.9" />
<line x1="408.35" y1="98.31" x2="410.45" y2="98.31" stroke="#222" stroke-width="0.9" />
<line x1="406.05" y1="96.45" x2="410.45" y2="96.45" stroke="#111" stroke-width="1.0" />
<text x="401.95" y="100.20" font-size="10.2" text-anchor="end" font-weight="normal" fill="#1a1a1a" letter-spacing="0.22">1E13</text>
<text x="401.95" y="140.90" font-size="10.2" text-anchor="end" font-weight="normal" fill="#1a1a1a" letter-spacing="0.22">1E11</text>
<text x="401.95" y="181.60" font-size="10.2" text-anchor="end" font-weight="normal" fill="#1a1a1a" letter-spacing="0.22">1E10</text>
<text x="401.95" y="222.30" font-size="10.2" text-anchor="end" font-weight="normal" fill="#1a1a1a" letter-spacing="0.22">1E9</text>
<line x1="496.46" y1="218.55" x2="496.46" y2="220.85" stroke="#222" stroke-width="1.0" />
<line x1="540.30" y1="218.55" x2="540.30" y2="220.85" stroke="#222" stroke-width="1.0" />
<line x1="571.41" y1="218.55" x2="571.41" y2="220.85" stroke="#222" stroke-width="1.0" />
<line x1="595.54" y1="218.55" x2="595.54" y2="220.85" stroke="#222" stroke-width="1.0" />
<line x1="615.26" y1="218.55" x2="615.26" y2="220.85" stroke="#222" stroke-width="1.0" />
<line x1="631.93" y1="218.55" x2="631.93" y2="220.85" stroke="#222" stroke-width="1.0" />
<line x1="646.37" y1="218.55" x2="646.37" y2="220.85" stroke="#222" stroke-width="1.0" />
<line x1="659.11" y1="218.55" x2="659.11" y2="220.85" stroke="#222" stroke-width="1.0" />
<line x1="421.50" y1="218.55" x2="421.50" y2="222.55" stroke="#222" stroke-width="1.0" />
<line x1="670.50" y1="218.55" x2="670.50" y2="222.55" stroke="#222" stroke-width="1.0" />
<text x="421.50" y="234.70" font-size="10" text-anchor="middle" font-weight="normal" fill="#1a1a1a" >10</text>
<text x="670.50" y="234.70" font-size="10" text-anchor="middle" font-weight="normal" fill="#1a1a1a" >100</text>
<text x="545.50" y="249.60" font-size="10.5" text-anchor="middle" font-weight="normal" fill="#1a1a1a" >Frequency (Hz)</text>
<text transform="translate(367.5,115.15) rotate(-90)" font-size="10.45" text-anchor="middle" fill="#1a1a1a">Detectivity (Jones)</text>
<text x="359.40" y="13.10" font-size="14" text-anchor="start" font-weight="bold" fill="#1a1a1a" >b</text>
<polyline points="421.40,28.90 496.30,22.90 595.50,33.10 670.40,54.40" fill="none" stroke="#2f8080" stroke-width="1"/>
<polyline points="421.60,116.90 496.40,117.70 595.30,120.50 670.40,117.20" fill="none" stroke="#3a9a3a" stroke-width="1"/>
<polyline points="421.70,190.40 496.20,191.00 595.50,195.40 670.40,196.40" fill="none" stroke="#40e040" stroke-width="1"/>
<circle cx="421.4" cy="28.9" r="3.3" fill="#008080"/>
<circle cx="496.3" cy="22.9" r="3.3" fill="#008080"/>
<circle cx="595.5" cy="33.1" r="3.3" fill="#008080"/>
<circle cx="670.4" cy="54.4" r="3.3" fill="#008080"/>
<polygon points="421.60,112.37 425.60,119.17 417.60,119.17" fill="#007a00"/>
<polygon points="496.40,113.17 500.40,119.97 492.40,119.97" fill="#007a00"/>
<polygon points="595.30,115.97 599.30,122.77 591.30,122.77" fill="#007a00"/>
<polygon points="670.40,112.67 674.40,119.47 666.40,119.47" fill="#007a00"/>
<rect x="418.60" y="187.30" width="6.2" height="6.2" fill="#00e000"/>
<rect x="493.10" y="187.90" width="6.2" height="6.2" fill="#00e000"/>
<rect x="592.40" y="192.30" width="6.2" height="6.2" fill="#00e000"/>
<rect x="667.30" y="193.30" width="6.2" height="6.2" fill="#00e000"/>
<rect x="424.5" y="44.5" width="47.8" height="49.0" fill="#fff" stroke="#888" stroke-width="1"/>
<line x1="426.30" y1="53.50" x2="455.50" y2="53.50" stroke="#2a8f8f" stroke-width="1" />
<circle cx="440.8" cy="53.5" r="3.3" fill="#008080"/>
<line x1="426.30" y1="69.70" x2="455.50" y2="69.70" stroke="#3a9a3a" stroke-width="1" />
<polygon points="440.80,65.17 444.80,71.97 436.80,71.97" fill="#007a00"/>
<line x1="426.30" y1="85.20" x2="455.50" y2="85.20" stroke="#40e040" stroke-width="1" />
<rect x="437.70" y="82.10" width="6.2" height="6.2" fill="#00e000"/>
<text x="459.90" y="57.90" font-size="10" text-anchor="start" font-weight="normal" fill="#1a1a1a" >A</text>
<text x="459.90" y="73.80" font-size="10" text-anchor="start" font-weight="normal" fill="#1a1a1a" >B</text>
<text x="459.90" y="89.70" font-size="10" text-anchor="start" font-weight="normal" fill="#1a1a1a" >C</text>
</svg>
</body></html>
